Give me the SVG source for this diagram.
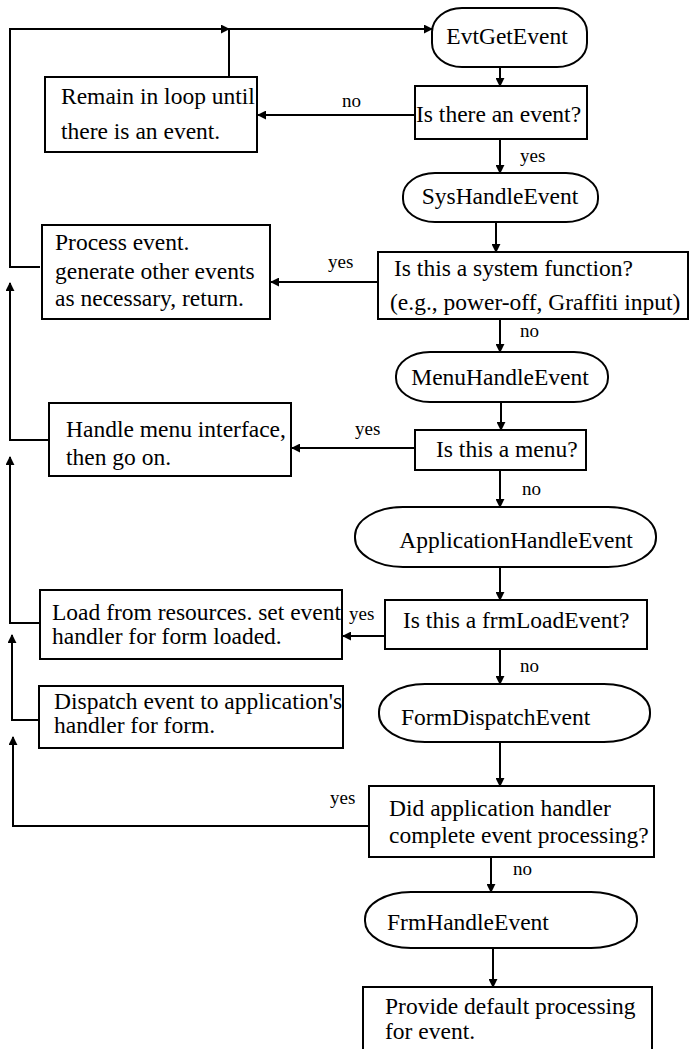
<svg xmlns="http://www.w3.org/2000/svg" width="690" height="1049" viewBox="0 0 690 1049">
  <defs>
    <marker id="arrow" viewBox="0 0 10 10" refX="9" refY="5" markerWidth="9" markerHeight="9" markerUnits="userSpaceOnUse" orient="auto">
      <path d="M0,0 L10,5 L0,10 z" fill="#000"/>
    </marker>
    <style>
      .box { fill: #fff; stroke: #000; stroke-width: 2; }
      .term { fill: #fff; stroke: #000; stroke-width: 2; }
      text { font-family: 'Liberation Serif', 'DejaVu Serif', 'Times New Roman', serif; fill: #000; }
      .t { font-size: 23.5px; }
      .c { text-anchor: middle; }
      .lbl { font-size: 19px; }
      .edge { fill: none; stroke: #000; stroke-width: 2; marker-end: url(#arrow); }
      .line { fill: none; stroke: #000; stroke-width: 2; }
    </style>
  </defs>
  <rect width="690" height="1049" fill="#fff"/>

  <g font-family="Liberation Serif, DejaVu Serif, serif">
  <!-- connectors: main flow down the right, return paths along the left edge -->
  <g id="connectors">
    <path class="edge" d="M40,267 H10 V29 H229"/>
    <path class="edge" d="M229,77 V29 H432"/>
    <path class="edge" d="M500,67 V86"/>
    <path class="edge" d="M415,115 H258"/>
    <path class="edge" d="M500,139 V173"/>
    <path class="edge" d="M496,222 V252"/>
    <path class="edge" d="M378,282 H271"/>
    <path class="edge" d="M500,319 V352"/>
    <path class="edge" d="M49,440 H10 V283"/>
    <path class="edge" d="M501,402 V430"/>
    <path class="edge" d="M415,448 H292"/>
    <path class="edge" d="M500,470 V507"/>
    <path class="edge" d="M40,623 H10 V457"/>
    <path class="edge" d="M500,567 V600"/>
    <path class="edge" d="M385,636 H343"/>
    <path class="edge" d="M500,649 V684"/>
    <path class="edge" d="M39,720 H12 V635"/>
    <path class="edge" d="M500,742 V786"/>
    <path class="edge" d="M369,826 H13 V737"/>
    <path class="edge" d="M491,857 V892"/>
    <path class="edge" d="M493,948 V987"/>
    <text class="lbl" x="342" y="107">no</text>
    <text class="lbl" x="520" y="162">yes</text>
    <text class="lbl" x="328" y="268">yes</text>
    <text class="lbl" x="520" y="337">no</text>
    <text class="lbl" x="355" y="435">yes</text>
    <text class="lbl" x="522" y="495">no</text>
    <text class="lbl" x="349" y="620">yes</text>
    <text class="lbl" x="520" y="672">no</text>
    <text class="lbl" x="330" y="804">yes</text>
    <text class="lbl" x="513" y="875">no</text>
  </g>

  <g id="evtGetEvent">
    <rect class="term" x="432" y="8" width="155" height="59" rx="30" ry="24"/>
    <text class="t c" x="507" y="44">EvtGetEvent</text>
  </g>
  <g id="isEvent">
    <rect class="box" x="415" y="86" width="172" height="53"/>
    <text class="t" x="416" y="122">Is there an event?</text>
  </g>
  <g id="remainLoop">
    <rect class="box" x="45" y="77" width="212" height="75"/>
    <text class="t" x="61" y="104">Remain in loop until</text>
    <text class="t" x="61" y="139">there is an event.</text>
  </g>
  <g id="sysHandleEvent">
    <rect class="term" x="403" y="173" width="195" height="49" rx="32" ry="23"/>
    <text class="t c" x="500" y="204">SysHandleEvent</text>
  </g>
  <g id="isSystem">
    <rect class="box" x="378" y="252" width="310" height="67"/>
    <text class="t" x="394" y="276">Is this a system function?</text>
    <text class="t" x="390" y="310">(e.g., power-off, Graffiti input)</text>
  </g>
  <g id="processEvent">
    <rect class="box" x="42" y="225" width="228" height="94"/>
    <text class="t" x="55" y="250">Process event.</text>
    <text class="t" x="55" y="279">generate other events</text>
    <text class="t" x="55" y="306">as necessary, return.</text>
  </g>
  <g id="menuHandleEvent">
    <rect class="term" x="396" y="352" width="212" height="50" rx="34" ry="24"/>
    <text class="t c" x="500" y="385">MenuHandleEvent</text>
  </g>
  <g id="isMenu">
    <rect class="box" x="415" y="430" width="171" height="40"/>
    <text class="t" x="436" y="457">Is this a menu?</text>
  </g>
  <g id="handleMenu">
    <rect class="box" x="49" y="403" width="242" height="73"/>
    <text class="t" x="66" y="437">Handle menu interface,</text>
    <text class="t" x="66" y="465">then go on.</text>
  </g>
  <g id="applicationHandleEvent">
    <rect class="term" x="355" y="507" width="301" height="60" rx="48" ry="29"/>
    <text class="t c" x="516" y="548">ApplicationHandleEvent</text>
  </g>
  <g id="isFrmLoad">
    <rect class="box" x="385" y="600" width="262" height="49"/>
    <text class="t" x="403" y="628">Is this a frmLoadEvent?</text>
  </g>
  <g id="loadResources">
    <rect class="box" x="40" y="590" width="302" height="69"/>
    <text class="t" x="52" y="620">Load from resources. set event</text>
    <text class="t" x="52" y="644">handler for form loaded.</text>
  </g>
  <g id="formDispatchEvent">
    <rect class="term" x="379" y="684" width="271" height="58" rx="46" ry="28"/>
    <text class="t" x="401" y="725">FormDispatchEvent</text>
  </g>
  <g id="dispatchEvent">
    <rect class="box" x="39" y="686" width="304" height="62"/>
    <text class="t" x="54" y="709">Dispatch event to application's</text>
    <text class="t" x="54" y="733">handler for form.</text>
  </g>
  <g id="appHandlerDone">
    <rect class="box" x="369" y="786" width="285" height="71"/>
    <text class="t" x="389" y="816">Did application handler</text>
    <text class="t" x="389" y="843">complete event processing?</text>
  </g>
  <g id="frmHandleEvent">
    <rect class="term" x="365" y="892" width="272" height="56" rx="46" ry="27"/>
    <text class="t" x="387" y="930">FrmHandleEvent</text>
  </g>
  <g id="defaultProcessing">
    <path class="line" d="M363,1060 V987 H652 V1060"/>
    <text class="t" x="385" y="1014">Provide default processing</text>
    <text class="t" x="385" y="1039">for event.</text>
  </g>
  </g>
</svg>
